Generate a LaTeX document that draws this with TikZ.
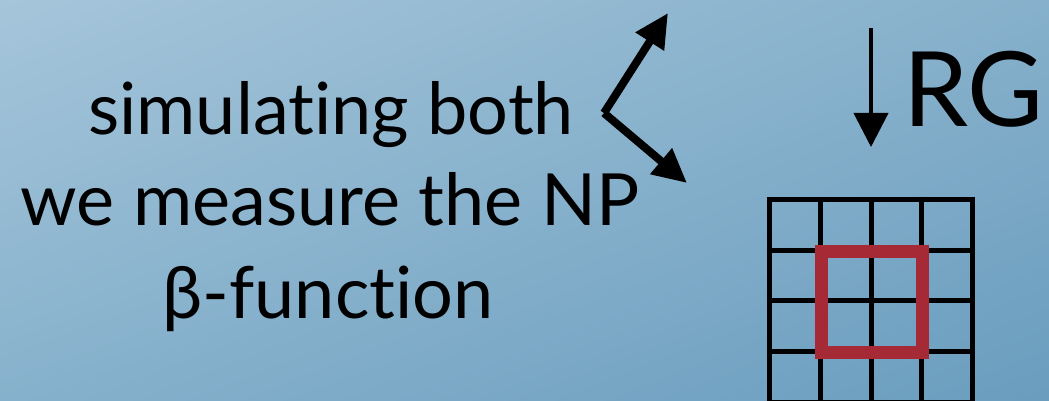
\documentclass[tikz,border=0pt]{standalone}
\usepackage{fontspec}
\setmainfont{Lato}[RawFeature={-liga,-dlig,-clig}]
\usetikzlibrary{arrows.meta,shadings}
\definecolor{bgTL}{HTML}{A5C5DA}
\definecolor{bgTR}{HTML}{86B0CB}
\definecolor{bgBL}{HTML}{86B1CC}
\definecolor{bgBR}{HTML}{6A9DBE}
\definecolor{loopred}{HTML}{A62A35}
\tikzset{
  txt/.style={font=\fontsize{72}{80}\selectfont, anchor=base, inner sep=0pt},
  bigarrow/.style={line width=8pt, -{Triangle[length=34pt,width=32pt]}},
  rgarrow/.style={line width=4pt, -{Triangle[length=34pt,width=34pt]}},
  gridline/.style={line width=5pt, black},
  loop/.style={line width=13pt, loopred, line join=miter}
}
\begin{document}
\begin{tikzpicture}[x=1pt,y=-1pt]
\useasboundingbox (0,0) rectangle (1049,401);
\shade[upper left=bgTL, upper right=bgTR, lower left=bgBL, lower right=bgBR] (0,0) rectangle (1049,401);
% text
\node[txt] (l1) at (331,135) {simulating both};
\node[txt] (l2) at (330,225) {we measure the NP};
\node[txt] (l3) at (328,318) {β-function};
% branching arrows
\coordinate (v) at (604,113);
\coordinate (up) at (668,13);
\coordinate (dn) at (687,183);
\draw[bigarrow] (v) -- (up);
\draw[bigarrow] (v) -- (dn);
% RG arrow
\coordinate (rgtop) at (871,28);
\coordinate (rgbot) at (871,147);
\draw[rgarrow] (rgtop) -- (rgbot);
\node[font=\fontsize{104}{120}\selectfont, anchor=base west, inner sep=0pt] (rg) at (903,127) {RG};
% lattice
\begin{scope}
\clip (0,0) rectangle (1049,401);
\foreach \x in {769,820,871,921,972}
  \draw[gridline] (\x,196.5) -- (\x,410);
\foreach \y in {199,250,300,351,402}
  \draw[gridline] (766.5,\y) -- (974.5,\y);
\end{scope}
\draw[loop] (821.5,251) rectangle (922,352);
\end{tikzpicture}
\end{document}
